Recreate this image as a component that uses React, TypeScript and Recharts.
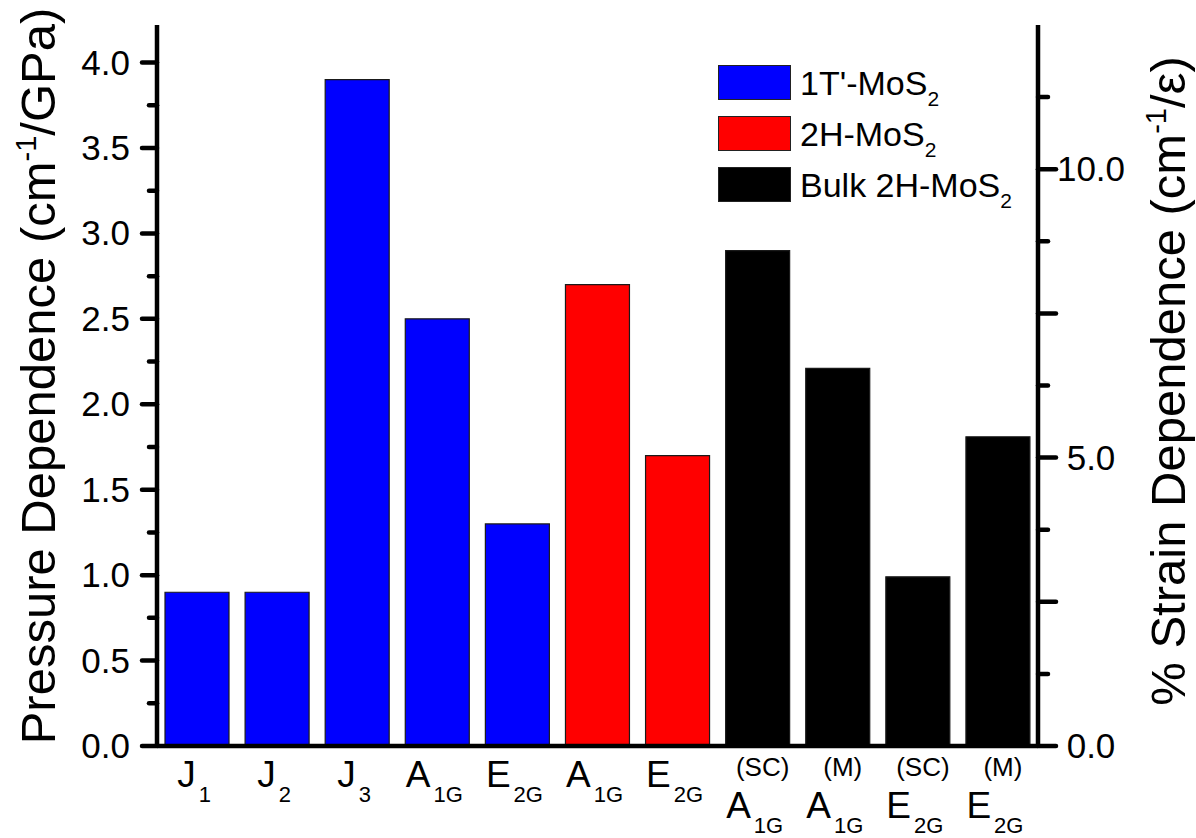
import React from 'react';
import { BarChart, Bar, XAxis, YAxis, Legend } from 'recharts';

const FONT = '"Liberation Sans", Arial, Helvetica, sans-serif';

// ---- data ----
const categories = ['J1', 'J2', 'J3', 'A1G_1T', 'E2G_1T', 'A1G_2H', 'E2G_2H', 'A1G_SC', 'A1G_M', 'E2G_SC', 'E2G_M'];
const labelMain = ['J', 'J', 'J', 'A', 'E', 'A', 'E', 'A', 'A', 'E', 'E'];
const labelSub = ['1', '2', '3', '1G', '2G', '1G', '2G', '1G', '1G', '2G', '2G'];
const labelSup = ['', '', '', '', '', '', '', '(SC)', '(M)', '(SC)', '(M)'];

const series1T: (number | null)[] = [0.9, 0.9, 3.9, 2.5, 1.3, null, null, null, null, null, null];
const series2H: (number | null)[] = [null, null, null, null, null, 2.7, 1.7, null, null, null, null];
const seriesBulk: (number | null)[] = [null, null, null, null, null, null, null, 2.9, 2.21, 0.99, 1.81];

const seriesNames = ["1T'-MoS2", '2H-MoS2', 'Bulk 2H-MoS2'];
const seriesColors = ['#0000FF', '#FF0000', '#000000'];

const leftTicks = [0, 0.25, 0.5, 0.75, 1.0, 1.25, 1.5, 1.75, 2.0, 2.25, 2.5, 2.75, 3.0, 3.25, 3.5, 3.75, 4.0];
const rightTicks = [0, 1.25, 2.5, 3.75, 5.0, 6.25, 7.5, 8.75, 10.0, 11.25];
const rightLabeled = [0, 5, 10];
const topTicks = [0.5, 1, 1.5, 2, 2.5, 3, 3.5, 4, 4.5];

const data = categories.map((c, i) => ({
  id: c,
  t1: series1T[i],
  h2: series2H[i],
  bulk: seriesBulk[i],
}));

const AXIS_W = 4.5;
const isMultiple = (v: number, step: number) => Math.abs(v / step - Math.round(v / step)) < 1e-6;

function LeftTick(props: any) {
  const { x, y, payload } = props;
  const v = payload.value as number;
  const major = isMultiple(v, 0.5);
  return (
    <g>
      <line x1={x - (major ? 15 : 8)} x2={x} y1={y} y2={y} style={{ stroke: '#000', strokeWidth: AXIS_W, strokeLinecap: 'round' }} />
      {major && (
        <text x={x - 27} y={y} dy={12} textAnchor="end" fontSize={35} fontFamily={FONT} fill="#000" stroke="none">
          {v.toFixed(1)}
        </text>
      )}
    </g>
  );
}

function RightTick(props: any) {
  const { x, y, payload } = props;
  const v = payload.value as number;
  const major = isMultiple(v, 2.5);
  const labeled = rightLabeled.some((r) => Math.abs(r - v) < 1e-6);
  return (
    <g>
      <line x1={x} x2={x + (major ? 18 : 10)} y1={y} y2={y} style={{ stroke: '#000', strokeWidth: AXIS_W, strokeLinecap: 'round' }} />
      {labeled && (
        <text x={x + 53} y={y} dy={12} textAnchor="middle" fontSize={35} fontFamily={FONT} fill="#000" stroke="none">
          {v.toFixed(1)}
        </text>
      )}
    </g>
  );
}

function TopTick(props: any) {
  const { x, y, payload } = props;
  const v = payload.value as number;
  const major = isMultiple(v, 1);
  return (
    <line
      x1={x}
      x2={x}
      y1={y}
      y2={y + (major ? 13 : 8)}
      style={{ stroke: '#000', strokeWidth: AXIS_W, strokeLinecap: 'round' }}
    />
  );
}

function BottomTick(props: any) {
  const { x, y, payload } = props;
  const i = categories.indexOf(payload.value);
  if (i < 0) return null;
  const sup = labelSup[i];
  const base = sup ? y + 72 : y + 41;
  return (
    <g>
      {sup && (
        <text x={x + 5} y={y + 30} textAnchor="middle" fontSize={26} fontFamily={FONT} fill="#000" stroke="none">
          {sup}
        </text>
      )}
      <text x={x - 3} y={base} textAnchor="middle" fontSize={37} fontFamily={FONT} fill="#000" stroke="none">
        {labelMain[i]}
        <tspan fontSize={22} dx={3} dy={15}>
          {labelSub[i]}
        </tspan>
      </text>
    </g>
  );
}

function LeftTitle() {
  const cx = 55;
  const cy = 376;
  return (
    <text
      x={cx}
      y={cy}
      transform={`rotate(-90, ${cx}, ${cy})`}
      textAnchor="middle"
      fontSize={49}
      fontFamily={FONT}
      fill="#000"
    >
      Pressure Dependence (cm
      <tspan fontSize={29} dy={-19}>
        -1
      </tspan>
      <tspan dy={19}>/GPa)</tspan>
    </text>
  );
}

function RightTitle() {
  const cx = 1185;
  const cy = 381;
  return (
    <text
      x={cx}
      y={cy}
      transform={`rotate(-90, ${cx}, ${cy})`}
      textAnchor="middle"
      fontSize={49}
      fontFamily={FONT}
      fill="#000"
    >
      % Strain Dependence (cm
      <tspan fontSize={29} dy={-19}>
        -1
      </tspan>
      <tspan dy={19}>/ε)</tspan>
    </text>
  );
}

function formatName(name: string) {
  if (name.endsWith('2')) {
    return (
      <>
        {name.slice(0, -1)}
        <span style={{ fontSize: 21, position: 'relative', top: 11 }}>2</span>
      </>
    );
  }
  return name;
}

function LegendContent(props: any) {
  const payload = props.payload || [];
  return (
    <div style={{ fontFamily: FONT }}>
      {payload.map((entry: any, idx: number) => (
        <div key={idx} style={{ display: 'flex', alignItems: 'center', height: 35, marginBottom: 16 }}>
          <div
            style={{
              width: 73,
              height: 35,
              boxSizing: 'border-box',
              border: '1.5px solid #222',
              background: entry.color,
            }}
          />
          <span style={{ marginLeft: 9, fontSize: 34, lineHeight: 1, color: '#000', whiteSpace: 'nowrap' }}>
            {formatName(String(entry.value))}
          </span>
        </div>
      ))}
    </div>
  );
}

const axisLineStyle = { stroke: '#000', strokeWidth: AXIS_W, style: { stroke: '#000', strokeWidth: AXIS_W } };

export default function App() {
  return (
    <div style={{ position: 'fixed', left: 0, top: 0, background: '#fff' }}>
      <BarChart
        width={1196}
        height={838}
        data={data}
        margin={{ top: 25, right: 0, bottom: 0, left: 0 }}
        barCategoryGap="10%"
      >
        <XAxis
          xAxisId="bottom"
          dataKey="id"
          type="category"
          height={92}
          interval={0}
          tickLine={false}
          tickSize={0}
          tickMargin={0}
          stroke="#000"
          axisLine={axisLineStyle}
          tick={<BottomTick />}
        />
        <XAxis
          xAxisId="top"
          orientation="top"
          type="number"
          scale="linear"
          domain={[0, 5]}
          allowDataOverflow
          ticks={topTicks}
          interval={0}
          height={0}
          tickLine={false}
          tickSize={0}
          tickMargin={0}
          stroke="#000"
          axisLine={axisLineStyle}
          tick={<TopTick />}
        />
        <YAxis
          yAxisId="left"
          orientation="left"
          width={157}
          domain={[0, 4.22]}
          allowDataOverflow
          ticks={leftTicks}
          interval={0}
          tickLine={false}
          tickSize={0}
          tickMargin={0}
          stroke="#000"
          axisLine={axisLineStyle}
          tick={<LeftTick />}
          label={{ content: () => <LeftTitle /> }}
        />
        <YAxis
          yAxisId="right"
          orientation="right"
          width={158}
          domain={[0, 12.5]}
          allowDataOverflow
          ticks={rightTicks}
          interval={0}
          tickLine={false}
          tickSize={0}
          tickMargin={0}
          stroke="#000"
          axisLine={axisLineStyle}
          tick={<RightTick />}
          label={{ content: () => <RightTitle /> }}
        />
        <Legend
          layout="vertical"
          align="center"
          verticalAlign="middle"
          wrapperStyle={{ left: 718, top: 65, width: 330 }}
          content={<LegendContent />}
        />
        <Bar
          xAxisId="bottom"
          yAxisId="left"
          dataKey="t1"
          name={seriesNames[0]}
          stackId="s"
          fill={seriesColors[0]}
          stroke="#1a1a1a"
          strokeWidth={1.2}
          isAnimationActive={false}
        />
        <Bar
          xAxisId="bottom"
          yAxisId="left"
          dataKey="h2"
          name={seriesNames[1]}
          stackId="s"
          fill={seriesColors[1]}
          stroke="#1a1a1a"
          strokeWidth={1.2}
          isAnimationActive={false}
        />
        <Bar
          xAxisId="bottom"
          yAxisId="left"
          dataKey="bulk"
          name={seriesNames[2]}
          stackId="s"
          fill={seriesColors[2]}
          stroke="#1a1a1a"
          strokeWidth={1.2}
          isAnimationActive={false}
        />
      </BarChart>
    </div>
  );
}
